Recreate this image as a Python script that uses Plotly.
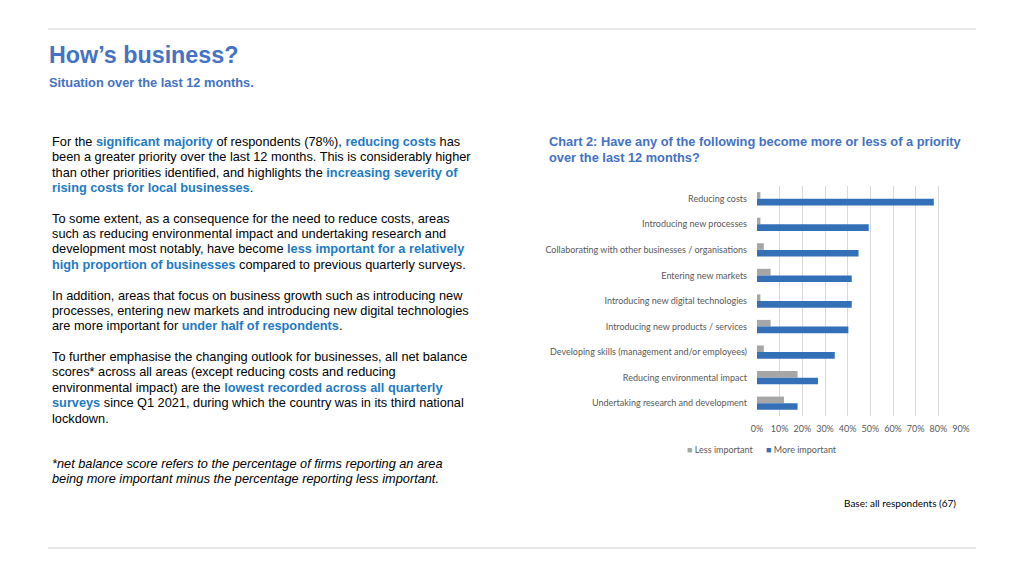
import plotly.graph_objects as go

categories = [
    "Reducing costs",
    "Introducing new processes",
    "Collaborating with other businesses / organisations",
    "Entering new markets",
    "Introducing new digital technologies",
    "Introducing new products / services",
    "Developing skills (management and/or employees)",
    "Reducing environmental impact",
    "Undertaking research and development",
]
less_important = [0.015, 0.015, 0.03, 0.06, 0.015, 0.06, 0.03, 0.179, 0.119]
more_important = [0.78, 0.493, 0.448, 0.418, 0.418, 0.403, 0.343, 0.269, 0.179]
x_ticks = [0, 0.1, 0.2, 0.3, 0.4, 0.5, 0.6, 0.7, 0.8, 0.9]
series_names = ["Less important", "More important"]
series_colors = ["#A6A6A6", "#3470B8"]

HL = "#1E7BC4"
TITLE = "#4472C4"

def hl(t):
    return f"<b><span style='color:{HL}'>{t}</span></b>"

paragraphs = [
    (141.5, [
        f"For the {hl('significant majority')} of respondents (78%), {hl('reducing costs')} has",
        "been a greater priority over the last 12 months. This is considerably higher",
        f"than other priorities identified, and highlights the {hl('increasing severity of')}",
        f"{hl('rising costs for local businesses')}.",
    ]),
    (218, [
        "To some extent, as a consequence for the need to reduce costs, areas",
        "such as reducing environmental impact and undertaking research and",
        f"development most notably, have become {hl('less important for a relatively')}",
        f"{hl('high proportion of businesses')} compared to previous quarterly surveys.",
    ]),
    (295, [
        "In addition, areas that focus on business growth such as introducing new",
        "processes, entering new markets and introducing new digital technologies",
        f"are more important for {hl('under half of respondents')}.",
    ]),
    (356.5, [
        "To further emphasise the changing outlook for businesses, all net balance",
        "scores* across all areas (except reducing costs and reducing",
        f"environmental impact) are the {hl('lowest recorded across all quarterly')}",
        f"{hl('surveys')} since Q1 2021, during which the country was in its third national",
        "lockdown.",
    ]),
    (463.5, [
        "<i>*net balance score refers to the percentage of firms reporting an area</i>",
        "<i>being more important minus the percentage reporting less important.</i>",
    ]),
]

W, H = 1024, 576
def px(x):
    return x / W
def py(y):
    return 1 - y / H

fig = go.Figure()
fig.add_trace(go.Bar(y=categories, x=less_important, orientation="h", name=series_names[0],
                     marker=dict(color=series_colors[0], line=dict(width=0)), showlegend=False))
fig.add_trace(go.Bar(y=categories, x=more_important, orientation="h", name=series_names[1],
                     marker=dict(color=series_colors[1], line=dict(width=0)), showlegend=False))

annotations = []
annotations.append(dict(x=px(47), y=py(55), text="<b>How’s business?</b>", showarrow=False,
                        xref="paper", yref="paper", xanchor="left", yanchor="middle",
                        font=dict(family="Liberation Sans, Arial", size=23.3, color=TITLE)))
annotations.append(dict(x=px(47), y=py(82), text="<b>Situation over the last 12 months.</b>", showarrow=False,
                        xref="paper", yref="paper", xanchor="left", yanchor="middle",
                        font=dict(family="Liberation Sans, Arial", size=12.8, color=TITLE)))
for i, line in enumerate(["Chart 2: Have any of the following become more or less of a priority",
                          "over the last 12 months?"]):
    annotations.append(dict(x=px(546.5), y=py(141.5 + i * 15.5), text=f"<b>{line}</b>", showarrow=False,
                            xref="paper", yref="paper", xanchor="left", yanchor="middle",
                            font=dict(family="Liberation Sans, Arial", size=12.8, color=TITLE)))
for y0, lines in paragraphs:
    for i, line in enumerate(lines):
        annotations.append(dict(x=px(50), y=py(y0 + i * 15.4), text=line, showarrow=False,
                                xref="paper", yref="paper", xanchor="left", yanchor="middle",
                                font=dict(family="Liberation Sans, Arial", size=12.75, color="#000000")))
annotations.append(dict(x=px(958), y=py(503), text="Base: all respondents (67)", showarrow=False,
                        xref="paper", yref="paper", xanchor="right", yanchor="middle",
                        font=dict(family="Lato, Liberation Sans", size=10, color="#000000")))
# legend entries
legend_x = [685, 764]
for name, col, lx in zip(series_names, series_colors, legend_x):
    annotations.append(dict(x=px(lx), y=py(449.5), showarrow=False, xref="paper", yref="paper",
                            xanchor="left", yanchor="middle",
                            text=f"<span style='color:{col}'>■</span> {name}",
                            font=dict(family="Lato, Liberation Sans", size=9, color="#595959")))

fig.update_layout(
    width=W, height=H,
    margin=dict(l=0, r=0, t=0, b=0, autoexpand=False),
    paper_bgcolor="white", plot_bgcolor="white",
    barmode="group", bargap=0.48, bargroupgap=0,
    showlegend=False,
    xaxis=dict(domain=[px(757), px(961)], range=[0, 0.9], tickvals=x_ticks, tickformat=".0%",
               automargin=False, ticklabelstandoff=6,
               showgrid=True, gridcolor="#D9D9D9", gridwidth=1, zeroline=False,
               showline=False, ticks="", tickfont=dict(family="Lato, Liberation Sans", size=9, color="#595959")),
    yaxis=dict(domain=[py(416), py(186)], autorange="reversed", showgrid=False, ticks="",
               automargin=False,
               ticklabelstandoff=9, showline=False,
               tickfont=dict(family="Lato, Liberation Sans", size=9, color="#595959")),
    annotations=annotations,
    shapes=[
        dict(type="line", xref="paper", yref="paper", x0=px(48), x1=px(976), y0=py(29), y1=py(29),
             line=dict(color="#E0E0E0", width=1.5)),
        dict(type="line", xref="paper", yref="paper", x0=px(48), x1=px(976), y0=py(548), y1=py(548),
             line=dict(color="#D0D0D0", width=1)),
    ],
)

fig.write_html("out.html", config={"displayModeBar": False},
               post_script="document.body.style.margin='0';document.body.style.overflow='hidden';")
